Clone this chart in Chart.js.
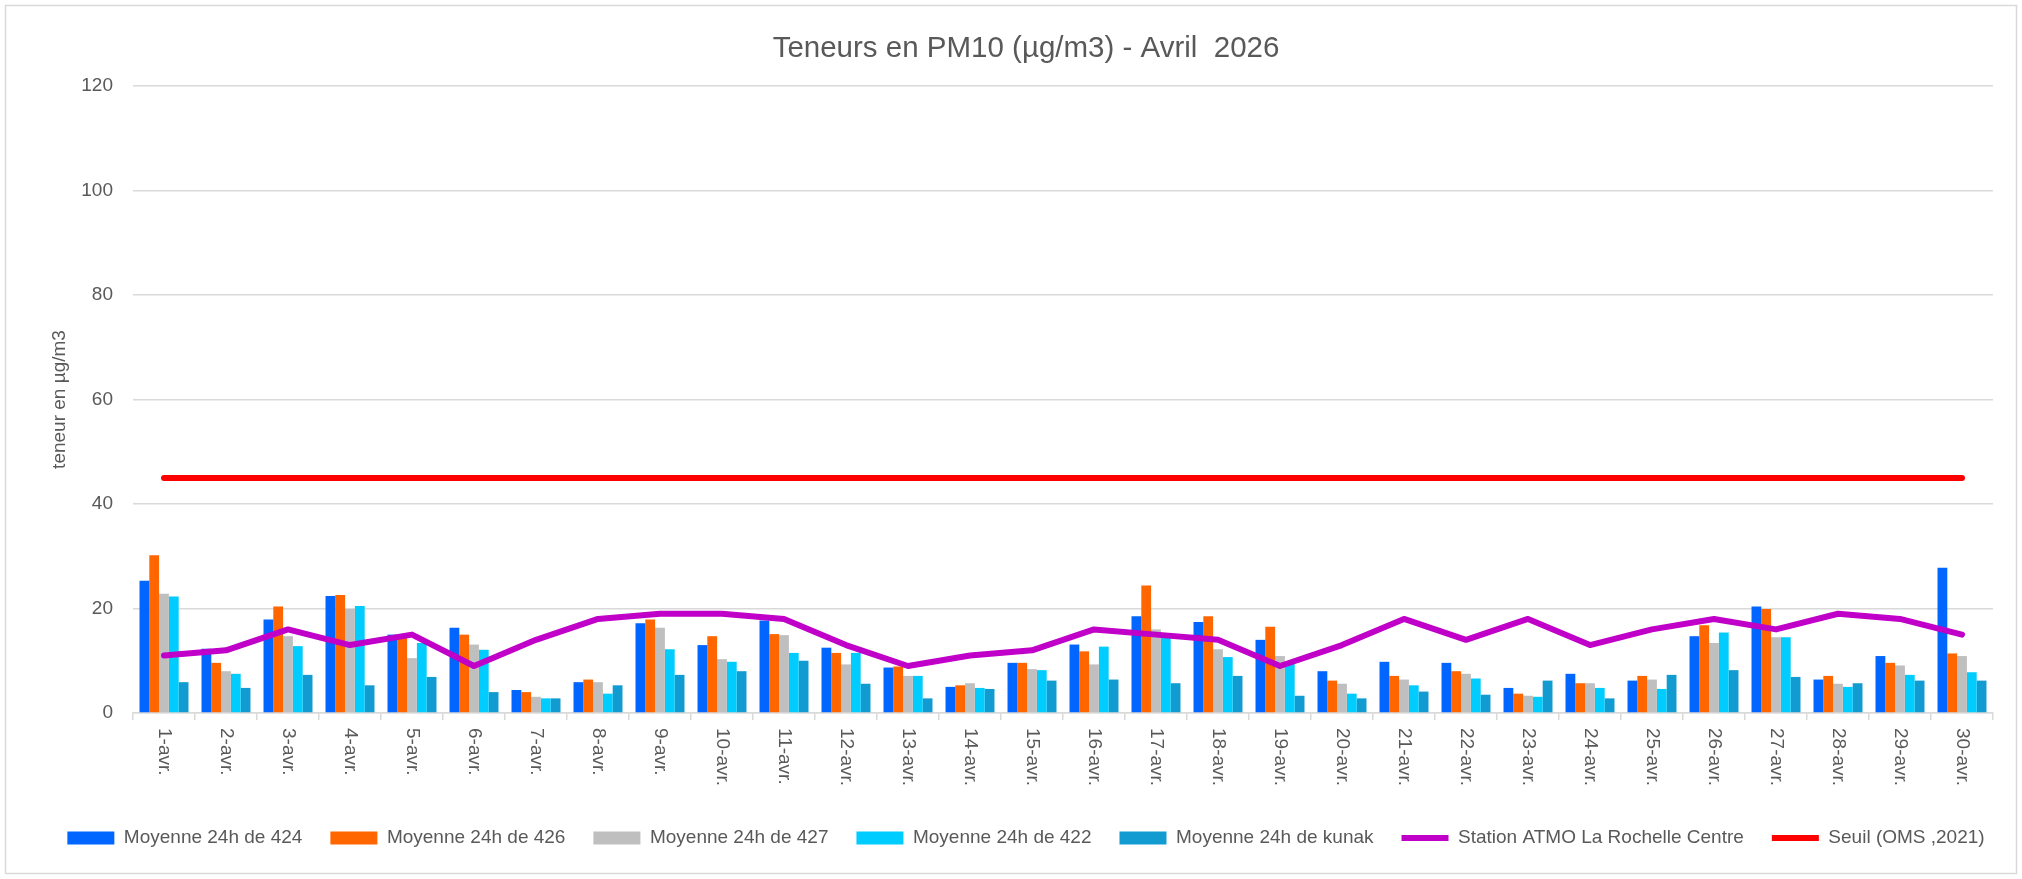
<!DOCTYPE html>
<html>
<head>
<meta charset="utf-8">
<title>Teneurs en PM10 - Avril 2026</title>
<script src="https://cdn.jsdelivr.net/npm/chart.js@4/dist/chart.umd.min.js"></script>
<style>
  html, body { margin: 0; padding: 0; background: #fff; }
  canvas { display: block; }
</style>
</head>
<body>
<canvas id="pm10" width="2022" height="879"></canvas>
<script>
const days = ['1-avr.','2-avr.','3-avr.','4-avr.','5-avr.','6-avr.','7-avr.','8-avr.','9-avr.','10-avr.',
  '11-avr.','12-avr.','13-avr.','14-avr.','15-avr.','16-avr.','17-avr.','18-avr.','19-avr.','20-avr.',
  '21-avr.','22-avr.','23-avr.','24-avr.','25-avr.','26-avr.','27-avr.','28-avr.','29-avr.','30-avr.'];

const moy424 = [25.3,12.3,17.9,22.4,15.0,16.3,4.4,5.9,17.2,13.0,17.7,12.5,8.7,5.0,9.6,
  13.1,18.5,17.4,14.0,8.0,9.8,9.6,4.8,7.5,6.2,14.7,20.4,6.4,10.9,27.8];
const moy426 = [30.2,9.6,20.4,22.6,14.6,15.0,4.0,6.4,17.9,14.7,15.1,11.5,8.9,5.3,9.6,
  11.8,24.4,18.5,16.5,6.2,7.1,8.0,3.7,5.7,7.1,16.8,19.9,7.1,9.6,11.4];
const moy427 = [22.8,8.0,14.7,19.9,10.5,13.1,3.1,5.9,16.3,10.3,14.9,9.3,7.1,5.7,8.4,
  9.3,16.0,12.2,10.9,5.6,6.4,7.5,3.3,5.7,6.4,13.4,14.5,5.6,9.1,10.9];
const moy422 = [22.3,7.5,12.8,20.5,13.4,12.1,2.8,3.7,12.2,9.8,11.5,11.5,7.1,4.8,8.2,
  12.7,14.8,10.7,9.5,3.7,5.3,6.6,3.1,4.8,4.6,15.4,14.5,5.0,7.3,7.8];
const moyKunak = [5.9,4.8,7.3,5.3,6.9,4.0,2.8,5.3,7.3,8.0,10.0,5.6,2.8,4.6,6.2,
  6.4,5.7,7.1,3.3,2.8,4.1,3.5,6.2,2.8,7.3,8.2,6.9,5.7,6.2,6.2];
const atmo = [11,12,16,13,15,9,14,18,19,19,18,13,9,11,12,16,15,14,9,13,18,14,18,13,16,18,16,19,18,15];
const seuil = [45,45,45,45,45,45,45,45,45,45,45,45,45,45,45,45,45,45,45,45,45,45,45,45,45,45,45,45,45,45];
const yTicks = [0,20,40,60,80,100,120];

const TXT = '#595959';
const FONT = "'Liberation Sans', Arial, sans-serif";

function bar(label, data, color) {
  return { type: 'bar', label, data, backgroundColor: color, borderWidth: 0,
    pointStyle: 'rect', order: 2, barPercentage: 1, categoryPercentage: 0.79 };
}
function line(label, data, color) {
  return { type: 'line', label, data, borderColor: color, backgroundColor: color, borderWidth: 6,
    pointRadius: 0, pointHoverRadius: 0, tension: 0, pointStyle: 'line', order: 1,
    borderCapStyle: 'round', borderJoinStyle: 'round' };
}

// white background + light frame around the whole chart
const frame = {
  id: 'frame',
  beforeDraw(chart) {
    const c = chart.ctx;
    c.save();
    c.fillStyle = '#fff';
    c.fillRect(0, 0, chart.width, chart.height);
    c.strokeStyle = '#d9d9d9';
    c.lineWidth = 1.5;
    c.strokeRect(5.5, 5.5, 2011, 868);
    c.restore();
  }
};

// x labels read top to bottom, like the spreadsheet
const dayLabels = {
  id: 'dayLabels',
  afterDraw(chart) {
    const xs = chart.scales.x, c = chart.ctx;
    c.save();
    c.fillStyle = TXT;
    c.font = '19px ' + FONT;
    c.textAlign = 'left';
    c.textBaseline = 'middle';
    days.forEach((d, i) => {
      c.save();
      c.translate(xs.getPixelForValue(i), xs.top + 15);
      c.rotate(Math.PI / 2);
      c.fillText(d, 0, 0);
      c.restore();
    });
    c.restore();
  }
};

new Chart(document.getElementById('pm10'), {
  data: {
    labels: days,
    datasets: [
      bar('Moyenne 24h de 424', moy424, '#0066ff'),
      bar('Moyenne 24h de 426', moy426, '#ff6600'),
      bar('Moyenne 24h de 427', moy427, '#bfbfbf'),
      bar('Moyenne 24h de 422', moy422, '#00ccff'),
      bar('Moyenne 24h de kunak', moyKunak, '#129bd1'),
      line('Station ATMO La Rochelle Centre', atmo, '#c000c8'),
      line('Seuil (OMS ,2021)', seuil, '#ff0000')
    ]
  },
  options: {
    responsive: false,
    animation: false,
    devicePixelRatio: 1,
    layout: { padding: { left: 30, right: 0, top: 0, bottom: 21.5 } },
    plugins: {
      title: {
        display: true,
        text: 'Teneurs en PM10 (µg/m3) - Avril  2026',
        color: TXT,
        font: { family: FONT, size: 29.5, weight: 'normal' },
        padding: { top: 31, bottom: 19.6 }
      },
      legend: {
        position: 'bottom',
        labels: {
          usePointStyle: true,
          pointStyleWidth: 47,
          boxHeight: 13,
          padding: 28,
          color: TXT,
          font: { family: FONT, size: 19 },
          sort: (a, b) => a.datasetIndex - b.datasetIndex
        }
      },
      tooltip: { enabled: false }
    },
    scales: {
      x: {
        offset: true,
        grid: { display: true, drawOnChartArea: false, drawTicks: true, tickLength: 7, color: '#d9d9d9', lineWidth: 1.5 },
        border: { display: true, color: '#d9d9d9', width: 1.5 },
        ticks: { display: false },
        afterFit: s => { s.height = 87.5; }
      },
      y: {
        min: 0,
        max: 120,
        afterBuildTicks: s => { s.ticks = yTicks.map(v => ({ value: v })); },
        grid: { color: '#d9d9d9', lineWidth: 1.5, drawTicks: false },
        border: { display: false },
        ticks: { color: TXT, padding: 20, font: { family: FONT, size: 19 } },
        title: {
          display: true,
          text: 'teneur en µg/m3',
          color: TXT,
          font: { family: FONT, size: 19 },
          padding: { top: 18.6, bottom: 0 }
        },
        afterFit: s => { s.width = 103; }
      },
      yRight: {
        position: 'right',
        display: true,
        grid: { display: false },
        border: { display: false },
        ticks: { display: false },
        afterFit: s => { s.width = 29; }
      }
    }
  },
  plugins: [frame, dayLabels]
});
</script>
</body>
</html>
